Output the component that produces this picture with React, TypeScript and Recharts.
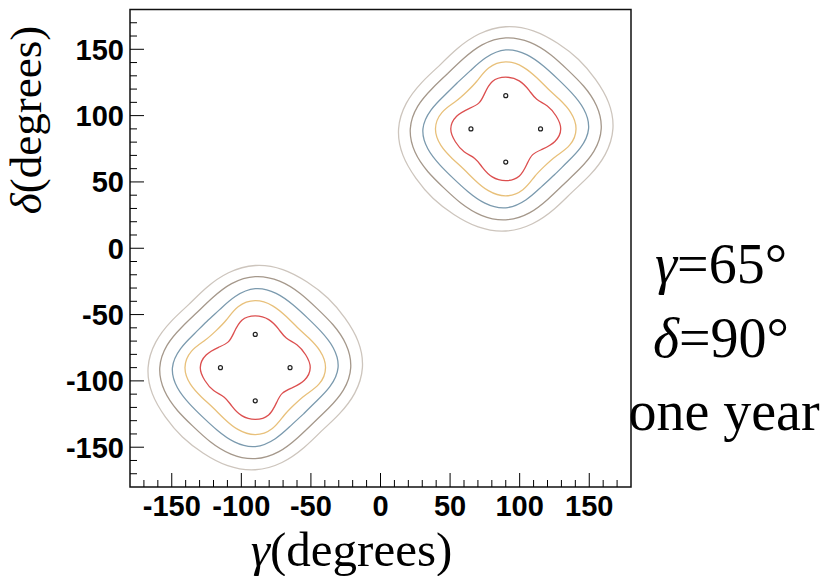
import { ComposedChart, Line, Scatter, XAxis, YAxis, ReferenceArea } from 'recharts';

// tick positions (degrees)
const axisTicks = [-170, -160, -150, -140, -130, -120, -110, -100, -90, -80, -70, -60, -50, -40, -30, -20, -10, 0, 10, 20, 30, 40, 50, 60, 70, 80, 90, 100, 110, 120, 130, 140, 150, 160, 170];
const labelledTicks = [-150, -100, -50, 0, 50, 100, 150];

// best-fit points (gamma, delta)
const bestFit = [[90, 115], [65, 90], [115, 90], [90, 65], [-90, -65], [-115, -90], [-65, -90], [-90, -115]];

// contours around (90, 90)
const redUpper = [[63.6, 105.3], [54.7, 99.5], [50.5, 90], [53.8, 80.3], [60.1, 72.7], [67.7, 67.7], [73.2, 61.0], [80.3, 53.8], [90, 51], [99.6, 54.3], [105.3, 63.6], [109.4, 70.6], [116.4, 74.7], [125.3, 80.5], [129.5, 90], [126.2, 99.7], [119.9, 107.3], [112.3, 112.3], [106.8, 119.0], [99.7, 126.2], [90, 129], [80.4, 125.7], [74.7, 116.4], [70.6, 109.4], [63.6, 105.3]];
const orangeUpper = [[62.0, 118.0], [54.1, 110.8], [44.1, 102.3], [39.5, 90], [43.4, 77.5], [51.5, 67.7], [59.7, 59.7], [67.7, 51.5], [77.5, 43.4], [90, 39.5], [102.3, 44.1], [110.8, 54.1], [118.0, 62.0], [125.9, 69.2], [135.9, 77.7], [140.5, 90], [136.6, 102.5], [128.5, 112.3], [120.3, 120.3], [112.3, 128.5], [102.5, 136.6], [90, 140.5], [77.7, 135.9], [69.2, 125.9], [62.0, 118.0]];
const blueUpper = [[55.2, 124.8], [46.1, 115.4], [36.4, 104.4], [30.5, 90], [34.0, 75.0], [42.8, 62.7], [52.5, 52.5], [62.7, 42.8], [75.0, 34.0], [90, 30.5], [104.4, 36.4], [115.4, 46.1], [124.8, 55.2], [133.9, 64.6], [143.6, 75.6], [149.5, 90], [146.0, 105.0], [137.2, 117.3], [127.5, 127.5], [117.3, 137.2], [105.0, 146.0], [90, 149.5], [75.6, 143.6], [64.6, 133.9], [55.2, 124.8]];
const brownUpper = [[48.3, 131.7], [37.2, 120.5], [26.7, 107.0], [21.4, 90], [24.8, 72.5], [34.1, 57.7], [45.5, 45.5], [57.7, 34.1], [72.5, 24.8], [90, 21.4], [107.0, 26.7], [120.5, 37.2], [131.7, 48.3], [142.8, 59.5], [153.3, 73.0], [158.6, 90], [155.2, 107.5], [145.9, 122.3], [134.5, 134.5], [122.3, 145.9], [107.5, 155.2], [90, 158.6], [73.0, 153.3], [59.5, 142.8], [48.3, 131.7]];
const greyUpper = [[42.3, 137.7], [29.6, 124.9], [18.5, 109.2], [13, 90], [16.1, 70.2], [25.5, 52.7], [37.7, 37.7], [52.7, 25.5], [70.2, 16.1], [90, 13], [109.2, 18.5], [124.9, 29.6], [137.7, 42.3], [150.4, 55.1], [161.5, 70.8], [167, 90], [163.9, 109.8], [154.5, 127.3], [142.3, 142.3], [127.3, 154.5], [109.8, 163.9], [90, 167], [70.8, 161.5], [55.1, 150.4], [42.3, 137.7]];

// contours around (-90, -90)
const redLower = [[-63.6, -105.3], [-54.7, -99.5], [-50.5, -90], [-53.8, -80.3], [-60.1, -72.7], [-67.7, -67.7], [-73.2, -61.0], [-80.3, -53.8], [-90, -51], [-99.6, -54.3], [-105.3, -63.6], [-109.4, -70.6], [-116.4, -74.7], [-125.3, -80.5], [-129.5, -90], [-126.2, -99.7], [-119.9, -107.3], [-112.3, -112.3], [-106.8, -119.0], [-99.7, -126.2], [-90, -129], [-80.4, -125.7], [-74.7, -116.4], [-70.6, -109.4], [-63.6, -105.3]];
const orangeLower = [[-62.0, -118.0], [-54.1, -110.8], [-44.1, -102.3], [-39.5, -90], [-43.4, -77.5], [-51.5, -67.7], [-59.7, -59.7], [-67.7, -51.5], [-77.5, -43.4], [-90, -39.5], [-102.3, -44.1], [-110.8, -54.1], [-118.0, -62.0], [-125.9, -69.2], [-135.9, -77.7], [-140.5, -90], [-136.6, -102.5], [-128.5, -112.3], [-120.3, -120.3], [-112.3, -128.5], [-102.5, -136.6], [-90, -140.5], [-77.7, -135.9], [-69.2, -125.9], [-62.0, -118.0]];
const blueLower = [[-55.2, -124.8], [-46.1, -115.4], [-36.4, -104.4], [-30.5, -90], [-34.0, -75.0], [-42.8, -62.7], [-52.5, -52.5], [-62.7, -42.8], [-75.0, -34.0], [-90, -30.5], [-104.4, -36.4], [-115.4, -46.1], [-124.8, -55.2], [-133.9, -64.6], [-143.6, -75.6], [-149.5, -90], [-146.0, -105.0], [-137.2, -117.3], [-127.5, -127.5], [-117.3, -137.2], [-105.0, -146.0], [-90, -149.5], [-75.6, -143.6], [-64.6, -133.9], [-55.2, -124.8]];
const brownLower = [[-48.3, -131.7], [-37.2, -120.5], [-26.7, -107.0], [-21.4, -90], [-24.8, -72.5], [-34.1, -57.7], [-45.5, -45.5], [-57.7, -34.1], [-72.5, -24.8], [-90, -21.4], [-107.0, -26.7], [-120.5, -37.2], [-131.7, -48.3], [-142.8, -59.5], [-153.3, -73.0], [-158.6, -90], [-155.2, -107.5], [-145.9, -122.3], [-134.5, -134.5], [-122.3, -145.9], [-107.5, -155.2], [-90, -158.6], [-73.0, -153.3], [-59.5, -142.8], [-48.3, -131.7]];
const greyLower = [[-42.3, -137.7], [-29.6, -124.9], [-18.5, -109.2], [-13, -90], [-16.1, -70.2], [-25.5, -52.7], [-37.7, -37.7], [-52.7, -25.5], [-70.2, -16.1], [-90, -13], [-109.2, -18.5], [-124.9, -29.6], [-137.7, -42.3], [-150.4, -55.1], [-161.5, -70.8], [-167, -90], [-163.9, -109.8], [-154.5, -127.3], [-142.3, -142.3], [-127.3, -154.5], [-109.8, -163.9], [-90, -167], [-70.8, -161.5], [-55.1, -150.4], [-42.3, -137.7]];

const contours = [
  { id: 'red-up', pts: redUpper, color: '#dc4f4f' },
  { id: 'orange-up', pts: orangeUpper, color: '#e8c07a' },
  { id: 'blue-up', pts: blueUpper, color: '#7b9aae' },
  { id: 'brown-up', pts: brownUpper, color: '#a5988b' },
  { id: 'grey-up', pts: greyUpper, color: '#cdc5bd' },
  { id: 'red-lo', pts: redLower, color: '#dc4f4f' },
  { id: 'orange-lo', pts: orangeLower, color: '#e8c07a' },
  { id: 'blue-lo', pts: blueLower, color: '#7b9aae' },
  { id: 'brown-lo', pts: brownLower, color: '#a5988b' },
  { id: 'grey-lo', pts: greyLower, color: '#cdc5bd' },
];

const toRows = (a: number[][]) => a.map(([g, d]) => ({ g, d }));

const tickFont = { fontFamily: 'Liberation Sans, Arial, sans-serif', fontWeight: 700, fontSize: 29, fill: '#000' };
const serif = 'Liberation Serif, Times New Roman, serif';

function GammaTick(props: any) {
  const { x, y, payload } = props;
  const major = labelledTicks.includes(payload.value);
  return (
    <g>
      <line x1={x} x2={x} y1={y} y2={y - (major ? 14 : 7)} stroke="#000" strokeWidth={1} />
      {major && (
        <text x={x} y={y + 29} textAnchor="middle" {...tickFont}>
          {payload.value}
        </text>
      )}
    </g>
  );
}

function DeltaTick(props: any) {
  const { x, y, payload } = props;
  const major = labelledTicks.includes(payload.value);
  return (
    <g>
      <line x1={x} x2={x + (major ? 14 : 7)} y1={y} y2={y} stroke="#000" strokeWidth={1} />
      {major && (
        <text x={x - 6} y={y + 10.5} textAnchor="end" {...tickFont}>
          {payload.value}
        </text>
      )}
    </g>
  );
}

const Marker = (props: any) => (
  <circle cx={props.cx} cy={props.cy} r={2} fill="#fff" stroke="#222" strokeWidth={1.2} />
);

export default function App() {
  return (
    <div style={{ position: 'absolute', left: 0, top: 0, width: 826, height: 576, background: '#fff' }}>
      <ComposedChart width={826} height={576} margin={{ top: 9.5, right: 195, bottom: 0, left: 0 }}>
        <XAxis
          type="number"
          dataKey="g"
          domain={[-180, 180]}
          allowDataOverflow
          ticks={axisTicks}
          interval={0}
          tickSize={0}
          tickMargin={0}
          tickLine={false}
          axisLine={false}
          height={89}
          tick={<GammaTick />}
        />
        <YAxis
          type="number"
          dataKey="d"
          domain={[-180, 180]}
          allowDataOverflow
          ticks={axisTicks}
          interval={0}
          tickSize={0}
          tickMargin={0}
          tickLine={false}
          axisLine={false}
          width={130}
          tick={<DeltaTick />}
        />
        <ReferenceArea x1={-180} x2={180} y1={-180} y2={180} fill="none" stroke="#111" strokeWidth={1.5} />
        {contours.map((c) => (
          <Line
            key={c.id}
            data={toRows(c.pts)}
            dataKey="d"
            type="natural"
            stroke={c.color}
            strokeWidth={1.3}
            dot={false}
            activeDot={false}
            isAnimationActive={false}
          />
        ))}
        <Scatter data={toRows(bestFit)} dataKey="d" shape={Marker} isAnimationActive={false} />
      </ComposedChart>
      <svg width={826} height={576} style={{ position: 'absolute', left: 0, top: 0, pointerEvents: 'none' }}>
        <text x={351.5} y={566} textAnchor="middle" fontFamily={serif} fontSize={49}>
          <tspan fontStyle="italic">γ</tspan>(degrees)
        </text>
        <text transform="translate(41,120) rotate(-90)" textAnchor="middle" fontFamily={serif} fontSize={45}>
          <tspan fontStyle="italic">δ</tspan>(degrees)
        </text>
        <text x={721} y={283} textAnchor="middle" fontFamily={serif} fontSize={56}>
          <tspan fontStyle="italic">γ</tspan>=65°
        </text>
        <text x={721} y={357} textAnchor="middle" fontFamily={serif} fontSize={56}>
          <tspan fontStyle="italic">δ</tspan>=90°
        </text>
        <text x={724} y={430} textAnchor="middle" fontFamily={serif} fontSize={56}>
          one year
        </text>
      </svg>
    </div>
  );
}
